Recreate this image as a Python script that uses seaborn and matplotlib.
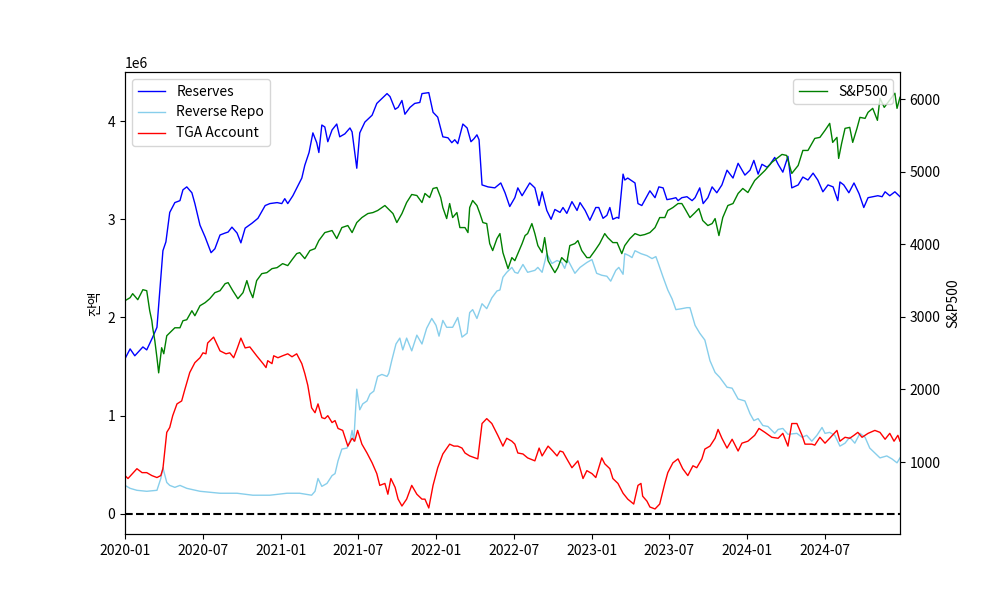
import numpy as np
import pandas as pd
import matplotlib
matplotlib.use("Agg")
import matplotlib.pyplot as plt
import matplotlib.dates as mdates
import seaborn as sns

plt.rcParams['font.family'] = ['Noto Sans CJK KR', 'DejaVu Sans']
plt.rcParams['axes.unicode_minus'] = False

# Reserves (in 1e6 units)
res_dates = ["2020-01-01", "2020-01-13", "2020-01-24", "2020-02-12", "2020-02-21", "2020-03-06", "2020-03-16",
             "2020-03-30", "2020-04-06", "2020-04-15", "2020-04-27", "2020-05-09", "2020-05-16", "2020-05-25",
             "2020-06-06", "2020-06-13", "2020-06-25", "2020-07-07", "2020-07-21", "2020-07-30", "2020-08-11",
             "2020-08-23", "2020-08-30", "2020-09-08", "2020-09-20", "2020-09-29", "2020-10-09", "2020-10-25",
             "2020-11-08", "2020-11-25", "2020-12-06", "2020-12-23", "2021-01-03", "2021-01-10", "2021-01-17",
             "2021-01-29", "2021-02-19", "2021-02-26", "2021-03-08", "2021-03-17", "2021-03-26", "2021-03-31",
             "2021-04-07", "2021-04-14", "2021-04-21", "2021-05-01", "2021-05-12", "2021-05-19", "2021-05-31",
             "2021-06-12", "2021-06-17", "2021-06-28", "2021-07-05", "2021-07-17", "2021-08-03", "2021-08-14",
             "2021-08-26", "2021-09-07", "2021-09-14", "2021-09-26", "2021-10-03", "2021-10-12", "2021-10-19",
             "2021-10-31", "2021-11-11", "2021-11-23", "2021-11-28", "2021-12-14", "2021-12-24", "2022-01-04",
             "2022-01-16", "2022-01-28", "2022-02-06", "2022-02-13", "2022-02-20", "2022-03-04", "2022-03-14",
             "2022-03-23", "2022-03-30", "2022-04-06", "2022-04-11", "2022-04-18", "2022-05-02", "2022-05-18",
             "2022-06-01", "2022-06-11", "2022-06-22", "2022-07-04", "2022-07-11", "2022-07-21", "2022-08-08",
             "2022-08-20", "2022-08-30", "2022-09-06", "2022-09-17", "2022-09-27", "2022-10-06", "2022-10-18",
             "2022-10-25", "2022-11-03", "2022-11-15", "2022-11-27", "2022-12-04", "2022-12-16", "2022-12-27",
             "2023-01-10", "2023-01-17", "2023-01-27", "2023-02-05", "2023-02-12", "2023-02-19", "2023-03-01",
             "2023-03-05", "2023-03-15", "2023-03-19", "2023-03-26", "2023-04-05", "2023-04-12", "2023-04-19",
             "2023-04-28", "2023-05-17", "2023-05-29", "2023-06-07", "2023-06-17", "2023-06-26", "2023-07-08",
             "2023-07-17", "2023-07-22", "2023-07-31", "2023-08-12", "2023-08-24", "2023-08-31", "2023-09-11",
             "2023-09-19", "2023-09-30", "2023-10-10", "2023-10-21", "2023-11-02", "2023-11-14", "2023-11-28",
             "2023-12-10", "2023-12-26", "2024-01-07", "2024-01-16", "2024-01-26", "2024-02-04", "2024-02-16",
             "2024-02-23", "2024-03-05", "2024-03-13", "2024-03-24", "2024-04-05", "2024-04-14", "2024-04-29",
             "2024-05-10", "2024-05-22", "2024-06-03", "2024-06-14", "2024-06-26", "2024-07-08", "2024-07-20",
             "2024-07-31", "2024-08-05", "2024-08-14", "2024-08-26", "2024-09-07", "2024-09-19", "2024-09-30",
             "2024-10-10", "2024-10-21", "2024-11-02", "2024-11-12", "2024-11-19", "2024-11-30", "2024-12-12",
             "2024-12-24"]
res_vals = [1.58, 1.68, 1.61, 1.70, 1.67, 1.80, 1.90, 2.68, 2.77, 3.07, 3.17, 3.19, 3.30, 3.33, 3.27, 3.16, 2.94,
            2.82, 2.66, 2.70, 2.84, 2.86, 2.87, 2.92, 2.86, 2.76, 2.91, 2.96, 3.01, 3.14, 3.16, 3.17, 3.16, 3.21,
            3.16, 3.24, 3.42, 3.55, 3.68, 3.88, 3.78, 3.68, 3.96, 3.94, 3.79, 3.91, 3.97, 3.84, 3.87, 3.93, 3.89,
            3.52, 3.88, 3.99, 4.06, 4.18, 4.23, 4.28, 4.25, 4.12, 4.14, 4.21, 4.07, 4.14, 4.18, 4.19, 4.28, 4.29,
            4.09, 4.04, 3.84, 3.83, 3.78, 3.81, 3.77, 3.97, 3.93, 3.79, 3.82, 3.86, 3.81, 3.35, 3.33, 3.32, 3.37,
            3.27, 3.13, 3.22, 3.32, 3.24, 3.37, 3.32, 3.14, 3.28, 3.09, 3.00, 3.10, 3.07, 3.12, 3.06, 3.18, 3.09,
            3.17, 3.09, 2.99, 3.12, 3.12, 3.01, 3.04, 3.12, 3.00, 3.02, 3.01, 3.46, 3.40, 3.42, 3.39, 3.37, 3.16,
            3.14, 3.29, 3.22, 3.33, 3.32, 3.20, 3.21, 3.22, 3.19, 3.22, 3.23, 3.19, 3.22, 3.32, 3.16, 3.22, 3.33,
            3.27, 3.35, 3.50, 3.42, 3.57, 3.45, 3.50, 3.60, 3.46, 3.56, 3.53, 3.56, 3.63, 3.56, 3.48, 3.64, 3.32,
            3.35, 3.43, 3.40, 3.47, 3.40, 3.28, 3.35, 3.33, 3.19, 3.38, 3.35, 3.27, 3.37, 3.26, 3.12, 3.22, 3.23,
            3.24, 3.23, 3.28, 3.24, 3.28, 3.23]

# Reverse repo (in 1e6 units)
rrp_dates = ["2020-01-01", "2020-01-13", "2020-01-29", "2020-02-21", "2020-03-16", "2020-03-25", "2020-03-30",
             "2020-04-08", "2020-04-15", "2020-04-27", "2020-05-09", "2020-05-25", "2020-06-25", "2020-08-11",
             "2020-09-20", "2020-10-27", "2020-12-06", "2021-01-15", "2021-02-14", "2021-03-14", "2021-03-22",
             "2021-03-29", "2021-04-07", "2021-04-19", "2021-05-01", "2021-05-08", "2021-05-15", "2021-05-24",
             "2021-06-05", "2021-06-12", "2021-06-17", "2021-06-21", "2021-06-28", "2021-07-05", "2021-07-12",
             "2021-07-22", "2021-07-29", "2021-08-07", "2021-08-16", "2021-08-26", "2021-09-07", "2021-09-11",
             "2021-09-18", "2021-09-28", "2021-10-07", "2021-10-14", "2021-10-23", "2021-11-04", "2021-11-16",
             "2021-11-28", "2021-12-09", "2021-12-21", "2021-12-31", "2022-01-07", "2022-01-16", "2022-01-25",
             "2022-02-08", "2022-02-20", "2022-03-02", "2022-03-14", "2022-03-20", "2022-03-27", "2022-04-06",
             "2022-04-18", "2022-04-29", "2022-05-11", "2022-05-23", "2022-05-30", "2022-06-06", "2022-06-15",
             "2022-06-27", "2022-07-04", "2022-07-11", "2022-07-23", "2022-08-03", "2022-08-20", "2022-08-27",
             "2022-09-06", "2022-09-17", "2022-09-29", "2022-10-11", "2022-10-22", "2022-10-29", "2022-11-05",
             "2022-11-22", "2022-12-04", "2022-12-20", "2023-01-01", "2023-01-12", "2023-01-24", "2023-02-05",
             "2023-02-14", "2023-02-26", "2023-03-05", "2023-03-15", "2023-03-19", "2023-03-29", "2023-04-05",
             "2023-04-12", "2023-04-26", "2023-05-10", "2023-05-22", "2023-05-31", "2023-06-05", "2023-06-17",
             "2023-06-28", "2023-07-08", "2023-07-17", "2023-07-31", "2023-08-12", "2023-08-19", "2023-08-31",
             "2023-09-11", "2023-09-23", "2023-10-05", "2023-10-17", "2023-10-28", "2023-11-14", "2023-11-26",
             "2023-12-10", "2023-12-26", "2024-01-07", "2024-01-16", "2024-01-26", "2024-02-06", "2024-02-18",
             "2024-03-05", "2024-03-13", "2024-03-24", "2024-04-05", "2024-04-26", "2024-05-08", "2024-05-19",
             "2024-05-31", "2024-06-12", "2024-06-24", "2024-07-01", "2024-07-12", "2024-07-24", "2024-08-05",
             "2024-08-17", "2024-08-28", "2024-09-09", "2024-09-21", "2024-10-03", "2024-10-14", "2024-10-26",
             "2024-11-07", "2024-11-23", "2024-12-05", "2024-12-17", "2024-12-24"]
rrp_vals = [0.29, 0.26, 0.24, 0.23, 0.24, 0.36, 0.47, 0.32, 0.29, 0.27, 0.29, 0.26, 0.23, 0.21, 0.21, 0.19, 0.19,
            0.21, 0.21, 0.19, 0.23, 0.36, 0.28, 0.31, 0.39, 0.41, 0.54, 0.66, 0.67, 0.74, 0.85, 0.74, 1.27, 1.06,
            1.12, 1.15, 1.22, 1.25, 1.40, 1.42, 1.40, 1.43, 1.56, 1.73, 1.79, 1.67, 1.79, 1.66, 1.82, 1.73, 1.89,
            1.99, 1.92, 1.81, 1.97, 1.90, 1.90, 2.00, 1.80, 1.84, 2.05, 2.08, 1.99, 2.14, 2.09, 2.20, 2.27, 2.28,
            2.41, 2.46, 2.51, 2.46, 2.45, 2.54, 2.46, 2.48, 2.51, 2.46, 2.65, 2.55, 2.58, 2.56, 2.50, 2.59, 2.45,
            2.51, 2.56, 2.59, 2.45, 2.43, 2.42, 2.37, 2.48, 2.51, 2.44, 2.65, 2.63, 2.61, 2.68, 2.65, 2.63, 2.60,
            2.62, 2.56, 2.41, 2.28, 2.19, 2.08, 2.09, 2.10, 2.10, 1.92, 1.84, 1.77, 1.56, 1.44, 1.39, 1.29, 1.28,
            1.17, 1.15, 1.02, 0.95, 0.97, 0.90, 0.89, 0.82, 0.86, 0.87, 0.81, 0.82, 0.78, 0.80, 0.74, 0.80, 0.88,
            0.82, 0.83, 0.80, 0.69, 0.72, 0.78, 0.72, 0.82, 0.78, 0.67, 0.62, 0.57, 0.59, 0.56, 0.52, 0.57]

# Treasury General Account (in 1e6 units)
tga_dates = ["2020-01-01", "2020-01-08", "2020-01-29", "2020-02-10", "2020-02-21", "2020-03-04", "2020-03-16",
             "2020-03-25", "2020-03-30", "2020-04-08", "2020-04-15", "2020-04-22", "2020-05-02", "2020-05-13",
             "2020-05-20", "2020-06-01", "2020-06-13", "2020-06-25", "2020-07-02", "2020-07-09", "2020-07-13",
             "2020-07-27", "2020-08-11", "2020-08-25", "2020-09-03", "2020-09-12", "2020-09-20", "2020-09-29",
             "2020-10-09", "2020-10-20", "2020-11-05", "2020-11-20", "2020-11-27", "2020-12-01", "2020-12-11",
             "2020-12-15", "2020-12-25", "2021-01-05", "2021-01-17", "2021-01-27", "2021-02-07", "2021-02-19",
             "2021-02-26", "2021-03-05", "2021-03-14", "2021-03-22", "2021-03-29", "2021-04-07", "2021-04-14",
             "2021-04-21", "2021-05-01", "2021-05-08", "2021-05-15", "2021-05-26", "2021-06-07", "2021-06-17",
             "2021-06-23", "2021-06-30", "2021-07-10", "2021-07-22", "2021-08-03", "2021-08-14", "2021-08-21",
             "2021-09-02", "2021-09-09", "2021-09-16", "2021-09-26", "2021-10-03", "2021-10-12", "2021-10-23",
             "2021-11-04", "2021-11-16", "2021-11-28", "2021-12-05", "2021-12-14", "2021-12-24", "2022-01-04",
             "2022-01-16", "2022-02-01", "2022-02-11", "2022-02-20", "2022-03-02", "2022-03-09", "2022-03-20",
             "2022-04-08", "2022-04-18", "2022-04-29", "2022-05-11", "2022-05-25", "2022-06-06", "2022-06-15",
             "2022-06-27", "2022-07-04", "2022-07-11", "2022-07-23", "2022-08-03", "2022-08-20", "2022-08-30",
             "2022-09-06", "2022-09-20", "2022-10-01", "2022-10-11", "2022-10-18", "2022-10-25", "2022-11-03",
             "2022-11-15", "2022-11-29", "2022-12-11", "2022-12-20", "2023-01-01", "2023-01-10", "2023-01-24",
             "2023-01-31", "2023-02-12", "2023-02-19", "2023-03-03", "2023-03-15", "2023-03-26", "2023-04-09",
             "2023-04-19", "2023-04-26", "2023-04-30", "2023-05-10", "2023-05-17", "2023-05-29", "2023-06-09",
             "2023-06-21", "2023-06-28", "2023-07-10", "2023-07-22", "2023-08-02", "2023-08-14", "2023-08-26",
             "2023-09-04", "2023-09-16", "2023-09-23", "2023-10-05", "2023-10-17", "2023-10-24", "2023-11-02",
             "2023-11-14", "2023-11-26", "2023-12-10", "2023-12-19", "2024-01-02", "2024-01-18", "2024-01-28",
             "2024-02-11", "2024-02-27", "2024-03-13", "2024-03-24", "2024-04-05", "2024-04-14", "2024-04-26",
             "2024-05-08", "2024-05-15", "2024-05-31", "2024-06-07", "2024-06-19", "2024-07-01", "2024-07-12",
             "2024-07-29", "2024-08-05", "2024-08-17", "2024-08-28", "2024-09-07", "2024-09-16", "2024-09-26",
             "2024-10-10", "2024-10-26", "2024-11-07", "2024-11-19", "2024-11-30", "2024-12-10", "2024-12-19",
             "2024-12-24"]
tga_vals = [0.39, 0.36, 0.46, 0.42, 0.42, 0.39, 0.37, 0.39, 0.46, 0.83, 0.88, 1.00, 1.12, 1.15, 1.26, 1.44, 1.54,
            1.59, 1.64, 1.63, 1.74, 1.80, 1.66, 1.63, 1.64, 1.59, 1.68, 1.79, 1.69, 1.70, 1.61, 1.53, 1.49, 1.56,
            1.53, 1.61, 1.59, 1.61, 1.63, 1.60, 1.63, 1.53, 1.43, 1.31, 1.08, 1.03, 1.12, 0.98, 0.97, 1.00, 0.93,
            0.95, 0.87, 0.85, 0.69, 0.77, 0.74, 0.85, 0.71, 0.62, 0.52, 0.41, 0.29, 0.31, 0.20, 0.36, 0.27, 0.15,
            0.08, 0.15, 0.29, 0.20, 0.15, 0.15, 0.06, 0.29, 0.47, 0.61, 0.71, 0.69, 0.69, 0.67, 0.62, 0.59, 0.56,
            0.92, 0.97, 0.92, 0.80, 0.69, 0.77, 0.74, 0.71, 0.62, 0.61, 0.57, 0.54, 0.67, 0.59, 0.69, 0.64, 0.59,
            0.64, 0.63, 0.56, 0.47, 0.54, 0.36, 0.44, 0.41, 0.37, 0.57, 0.51, 0.46, 0.36, 0.31, 0.21, 0.15, 0.10,
            0.29, 0.31, 0.18, 0.13, 0.07, 0.05, 0.10, 0.31, 0.42, 0.52, 0.56, 0.46, 0.39, 0.49, 0.47, 0.56, 0.66,
            0.69, 0.77, 0.86, 0.77, 0.67, 0.76, 0.64, 0.72, 0.74, 0.80, 0.87, 0.83, 0.78, 0.77, 0.82, 0.69, 0.92,
            0.92, 0.80, 0.71, 0.71, 0.70, 0.78, 0.72, 0.77, 0.85, 0.74, 0.78, 0.77, 0.80, 0.83, 0.78, 0.82, 0.85,
            0.83, 0.76, 0.82, 0.74, 0.80, 0.74]

# S&P500 index level
spx_dates = ["2020-01-01", "2020-01-13", "2020-01-19", "2020-01-31", "2020-02-12", "2020-02-21", "2020-02-28",
             "2020-03-04", "2020-03-06", "2020-03-11", "2020-03-16", "2020-03-20", "2020-03-27", "2020-04-01",
             "2020-04-08", "2020-04-15", "2020-04-27", "2020-05-09", "2020-05-16", "2020-05-25", "2020-06-06",
             "2020-06-13", "2020-06-25", "2020-07-07", "2020-07-18", "2020-07-30", "2020-08-11", "2020-08-23",
             "2020-08-30", "2020-09-10", "2020-09-22", "2020-10-04", "2020-10-13", "2020-10-20", "2020-10-27",
             "2020-11-05", "2020-11-17", "2020-11-29", "2020-12-11", "2020-12-23", "2021-01-05", "2021-01-17",
             "2021-01-29", "2021-02-07", "2021-02-14", "2021-02-26", "2021-03-10", "2021-03-22", "2021-03-31",
             "2021-04-14", "2021-05-01", "2021-05-12", "2021-05-24", "2021-06-07", "2021-06-17", "2021-06-28",
             "2021-07-10", "2021-07-24", "2021-08-05", "2021-08-16", "2021-09-02", "2021-09-14", "2021-09-21",
             "2021-09-30", "2021-10-12", "2021-10-23", "2021-11-04", "2021-11-16", "2021-11-28", "2021-12-05",
             "2021-12-16", "2021-12-24", "2022-01-02", "2022-01-11", "2022-01-16", "2022-01-25", "2022-02-01",
             "2022-02-08", "2022-02-18", "2022-02-25", "2022-03-09", "2022-03-16", "2022-03-20", "2022-03-27",
             "2022-04-06", "2022-04-13", "2022-04-20", "2022-04-29", "2022-05-06", "2022-05-13", "2022-05-23",
             "2022-05-30", "2022-06-06", "2022-06-18", "2022-06-27", "2022-07-04", "2022-07-11", "2022-07-21",
             "2022-07-28", "2022-08-03", "2022-08-13", "2022-08-20", "2022-08-27", "2022-09-06", "2022-09-12",
             "2022-09-20", "2022-09-29", "2022-10-06", "2022-10-13", "2022-10-22", "2022-11-03", "2022-11-10",
             "2022-11-22", "2022-11-29", "2022-12-08", "2022-12-20", "2022-12-27", "2023-01-08", "2023-01-19",
             "2023-01-31", "2023-02-07", "2023-02-19", "2023-03-01", "2023-03-12", "2023-03-19", "2023-03-31",
             "2023-04-12", "2023-04-24", "2023-05-05", "2023-05-17", "2023-05-29", "2023-06-09", "2023-06-21",
             "2023-06-28", "2023-07-10", "2023-07-22", "2023-07-31", "2023-08-07", "2023-08-19", "2023-08-31",
             "2023-09-09", "2023-09-18", "2023-09-30", "2023-10-10", "2023-10-17", "2023-10-26", "2023-11-04",
             "2023-11-16", "2023-11-28", "2023-12-10", "2023-12-21", "2024-01-02", "2024-01-18", "2024-01-30",
             "2024-02-11", "2024-02-27", "2024-03-10", "2024-03-22", "2024-04-02", "2024-04-14", "2024-04-29",
             "2024-05-10", "2024-05-22", "2024-06-07", "2024-06-19", "2024-07-01", "2024-07-12", "2024-07-19",
             "2024-07-29", "2024-08-02", "2024-08-09", "2024-08-17", "2024-08-28", "2024-09-04", "2024-09-14",
             "2024-09-21", "2024-10-03", "2024-10-10", "2024-10-21", "2024-11-01", "2024-11-07", "2024-11-17",
             "2024-11-26", "2024-12-05", "2024-12-12", "2024-12-17", "2024-12-24"]
spx_vals = [3223, 3265, 3320, 3237, 3375, 3361, 3085, 2947, 2850, 2671, 2436, 2229, 2575, 2492, 2740, 2781, 2850,
            2850, 2947, 2961, 3085, 3016, 3154, 3196, 3251, 3334, 3361, 3458, 3472, 3361, 3251, 3334, 3500, 3361,
            3265, 3500, 3596, 3610, 3665, 3679, 3734, 3707, 3803, 3872, 3886, 3803, 3914, 3941, 4052, 4162, 4190,
            4079, 4231, 4259, 4162, 4300, 4369, 4424, 4438, 4466, 4535, 4466, 4424, 4300, 4424, 4576, 4687, 4673,
            4576, 4701, 4645, 4770, 4783, 4645, 4507, 4355, 4562, 4369, 4438, 4231, 4231, 4162, 4507, 4604, 4535,
            4424, 4300, 4286, 4010, 3914, 4079, 4148, 3886, 3665, 3817, 3775, 3872, 4010, 4121, 4148, 4286, 4148,
            3983, 3886, 4093, 3775, 3679, 3610, 3679, 3817, 3748, 3983, 4010, 4052, 3914, 3817, 3817, 3914, 4010,
            4148, 4093, 4024, 4024, 3872, 3983, 4079, 4148, 4121, 4135, 4162, 4231, 4369, 4369, 4466, 4507, 4562,
            4562, 4493, 4369, 4438, 4493, 4328, 4259, 4286, 4355, 4121, 4369, 4535, 4562, 4701, 4770, 4714, 4880,
            4949, 5018, 5129, 5184, 5239, 5225, 4977, 5087, 5294, 5294, 5460, 5474, 5571, 5667, 5405, 5474, 5184,
            5391, 5598, 5612, 5405, 5598, 5750, 5736, 5819, 5874, 5709, 6013, 5888, 5957, 6027, 6082, 5874, 6027]

unit = 1e6
reserves = pd.DataFrame({"date": pd.to_datetime(res_dates), "value": np.array(res_vals) * unit})
rrp = pd.DataFrame({"date": pd.to_datetime(rrp_dates), "value": np.array(rrp_vals) * unit})
tga = pd.DataFrame({"date": pd.to_datetime(tga_dates), "value": np.array(tga_vals) * unit})
spx = pd.DataFrame({"date": pd.to_datetime(spx_dates), "value": spx_vals})

fig, ax = plt.subplots(figsize=(10, 6), dpi=100)

sns.lineplot(data=reserves, x="date", y="value", ax=ax, color="blue", linewidth=1, label="Reserves")
sns.lineplot(data=rrp, x="date", y="value", ax=ax, color="skyblue", linewidth=1, label="Reverse Repo")
sns.lineplot(data=tga, x="date", y="value", ax=ax, color="red", linewidth=1, label="TGA Account")
ax.axhline(0, color="black", linestyle="--", linewidth=1.5)
ax.set_xlabel("")
ax.set_ylabel("잔액")
ax.set_ylim(-0.205e6, 4.5e6)
ax.legend(loc="upper left")

ax2 = ax.twinx()
sns.lineplot(data=spx, x="date", y="value", ax=ax2, color="green", linewidth=1, label="S&P500")
ax2.set_ylabel("S&P500")
ax2.set_xlabel("")
ax2.set_ylim(8, 6375)
ax2.legend(loc="upper right")

ax.set_xlim(reserves["date"].min(), reserves["date"].max())
ax.xaxis.set_major_locator(mdates.MonthLocator(bymonth=[1, 7]))
ax.xaxis.set_major_formatter(mdates.DateFormatter("%Y-%m"))

fig.savefig("out.png", dpi=100)
